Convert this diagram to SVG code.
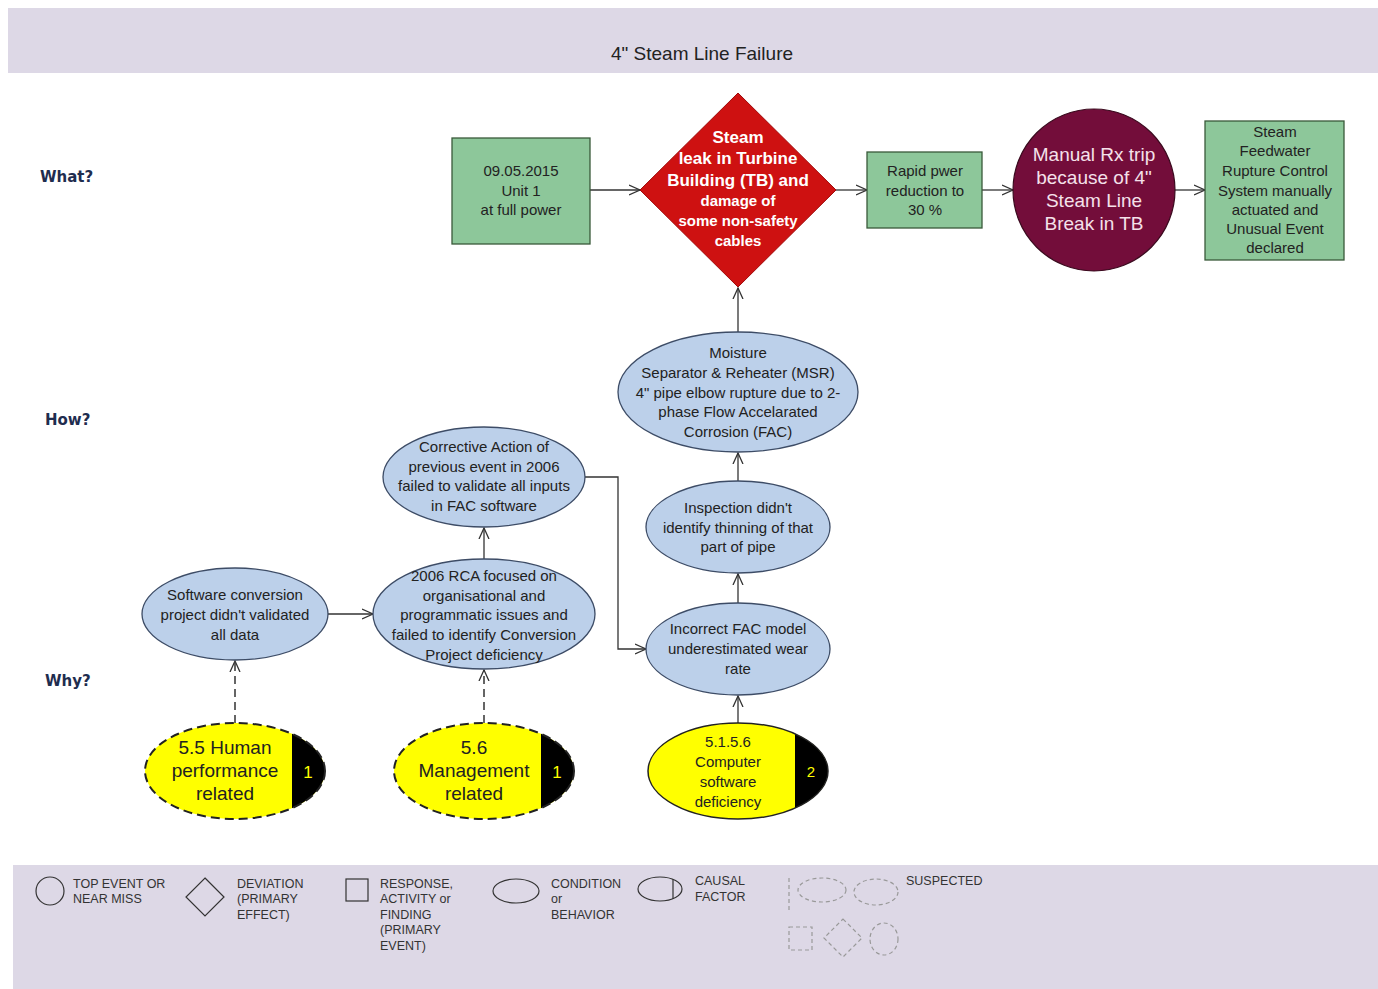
<svg xmlns="http://www.w3.org/2000/svg" width="1378" height="989" viewBox="0 0 1378 989">
<style>
text{font-family:"Liberation Sans",Arial,sans-serif;}
.t{font-size:15px;fill:#222;text-anchor:middle;}
.ty{font-size:19px;fill:#222;text-anchor:middle;}
.lbl{font-family:"DejaVu Sans",sans-serif;font-size:15px;font-weight:bold;fill:#1F2D4F;}
.box{fill:#8DC79A;stroke:#3A5A3A;stroke-width:1.3;}
.ell{fill:#BCD0EA;stroke:#3D4C66;stroke-width:1.3;}
.cf{fill:none;stroke:#222;stroke-width:1.5;}
.cfd{fill:none;stroke:#222;stroke-width:2;stroke-dasharray:9 5;}
.c{stroke:#333;stroke-width:1.3;fill:none;}
.cd{stroke:#333;stroke-width:1.5;fill:none;stroke-dasharray:8 5;}
.lg{fill:none;stroke:#333;stroke-width:1.2;}
.lgd{fill:none;stroke:#999;stroke-width:1.2;stroke-dasharray:4 3;}
.lt{font-size:12.5px;fill:#333;}
.w{fill:#fff;font-weight:bold;text-anchor:middle;}
</style>
<defs>
<marker id="arr" viewBox="0 0 12 12" refX="11" refY="6" markerWidth="12" markerHeight="12" markerUnits="userSpaceOnUse" orient="auto">
<path d="M0,1 L11,6 L0,11" fill="none" stroke="#333" stroke-width="1.3"/>
</marker>
<clipPath id="clipH"><ellipse cx="235" cy="771" rx="90" ry="48"/></clipPath>
<clipPath id="clipM"><ellipse cx="484" cy="771" rx="90" ry="48"/></clipPath>
<clipPath id="clipC"><ellipse cx="738" cy="771" rx="90" ry="48"/></clipPath>
</defs>
<rect width="1378" height="989" fill="#fff"/>
<rect x="8" y="8" width="1370" height="65" fill="#DDD8E6"/>
<text x="702" y="60" font-size="19" fill="#222" text-anchor="middle">4" Steam Line Failure</text>
<rect x="13" y="865" width="1365" height="124" fill="#DDD8E6"/>

<text class="lbl" x="40" y="182">What?</text>
<text class="lbl" x="45" y="425">How?</text>
<text class="lbl" x="45" y="686">Why?</text>

<g id="connectors">
<line class="c" x1="590" y1="190" x2="640" y2="190" marker-end="url(#arr)"/>
<line class="c" x1="836" y1="190" x2="867" y2="190" marker-end="url(#arr)"/>
<line class="c" x1="982" y1="190" x2="1013" y2="190" marker-end="url(#arr)"/>
<line class="c" x1="1175" y1="190" x2="1205" y2="190" marker-end="url(#arr)"/>
<line class="c" x1="738" y1="332" x2="738" y2="288" marker-end="url(#arr)"/>
<line class="c" x1="738" y1="481" x2="738" y2="453" marker-end="url(#arr)"/>
<line class="c" x1="738" y1="603" x2="738" y2="574" marker-end="url(#arr)"/>
<line class="c" x1="738" y1="723" x2="738" y2="696" marker-end="url(#arr)"/>
<polyline class="c" points="585,477 618,477 618,649 646,649" marker-end="url(#arr)"/>
<line class="c" x1="484" y1="559" x2="484" y2="528" marker-end="url(#arr)"/>
<line class="c" x1="328" y1="614" x2="373" y2="614" marker-end="url(#arr)"/>
<line class="cd" x1="235" y1="723" x2="235" y2="661" marker-end="url(#arr)"/>
<line class="cd" x1="484" y1="723" x2="484" y2="670" marker-end="url(#arr)"/>
</g>

<g id="n-start">
<rect class="box" x="452" y="138" width="138" height="106"/>
<text class="t" x="521" y="176">09.05.2015</text>
<text class="t" x="521" y="196">Unit 1</text>
<text class="t" x="521" y="215">at full power</text>
</g>

<g id="n-deviation">
<polygon points="738,93 836,190 738,287 640,190" fill="#CE1111" stroke="#A00A0A" stroke-width="1"/>
<text class="w" x="738" y="143" font-size="17">Steam</text>
<text class="w" x="738" y="164" font-size="17">leak in Turbine</text>
<text class="w" x="738" y="186" font-size="17">Building (TB) and</text>
<text class="w" x="738" y="206" font-size="15">damage of</text>
<text class="w" x="738" y="226" font-size="15">some non-safety</text>
<text class="w" x="738" y="246" font-size="15">cables</text>
</g>

<g id="n-rapid">
<rect class="box" x="867" y="152" width="115" height="76"/>
<text class="t" x="925" y="176">Rapid pwer</text>
<text class="t" x="925" y="196">reduction to</text>
<text class="t" x="925" y="215">30 %</text>
</g>

<g id="n-trip">
<circle cx="1094" cy="190" r="81" fill="#730D3A" stroke="#3A0A1E" stroke-width="1.2"/>
<text x="1094" y="161" font-size="19" fill="#F5E1EA" text-anchor="middle">Manual Rx trip</text>
<text x="1094" y="184" font-size="19" fill="#F5E1EA" text-anchor="middle">because of 4"</text>
<text x="1094" y="207" font-size="19" fill="#F5E1EA" text-anchor="middle">Steam Line</text>
<text x="1094" y="230" font-size="19" fill="#F5E1EA" text-anchor="middle">Break in TB</text>
</g>

<g id="n-feedwater">
<rect class="box" x="1205" y="121" width="139" height="139"/>
<text class="t" x="1275" y="137">Steam</text>
<text class="t" x="1275" y="156">Feedwater</text>
<text class="t" x="1275" y="176">Rupture Control</text>
<text class="t" x="1275" y="196">System manually</text>
<text class="t" x="1275" y="215">actuated and</text>
<text class="t" x="1275" y="234">Unusual Event</text>
<text class="t" x="1275" y="253">declared</text>
</g>

<g id="n-msr">
<ellipse class="ell" cx="738" cy="392" rx="120" ry="60"/>
<text class="t" x="738" y="358">Moisture</text>
<text class="t" x="738" y="378">Separator &amp; Reheater (MSR)</text>
<text class="t" x="738" y="398">4" pipe elbow rupture due to 2-</text>
<text class="t" x="738" y="417">phase Flow Accelarated</text>
<text class="t" x="738" y="437">Corrosion (FAC)</text>
</g>

<g id="n-inspection">
<ellipse class="ell" cx="738" cy="527" rx="92" ry="46"/>
<text class="t" x="738" y="513">Inspection didn't</text>
<text class="t" x="738" y="533">identify thinning of that</text>
<text class="t" x="738" y="552">part of pipe</text>
</g>

<g id="n-model">
<ellipse class="ell" cx="738" cy="649" rx="92" ry="46"/>
<text class="t" x="738" y="634">Incorrect FAC model</text>
<text class="t" x="738" y="654">underestimated wear</text>
<text class="t" x="738" y="674">rate</text>
</g>

<g id="n-corrective">
<ellipse class="ell" cx="484" cy="477" rx="101" ry="50"/>
<text class="t" x="484" y="452">Corrective Action of</text>
<text class="t" x="484" y="472">previous event in 2006</text>
<text class="t" x="484" y="491">failed to validate all inputs</text>
<text class="t" x="484" y="511">in FAC software</text>
</g>

<g id="n-rca">
<ellipse class="ell" cx="484" cy="614" rx="111" ry="55"/>
<text class="t" x="484" y="581">2006 RCA focused on</text>
<text class="t" x="484" y="601">organisational and</text>
<text class="t" x="484" y="620">programmatic issues and</text>
<text class="t" x="484" y="640">failed to identify Conversion</text>
<text class="t" x="484" y="660">Project deficiency</text>
</g>

<g id="n-software">
<ellipse class="ell" cx="235" cy="614" rx="93" ry="46"/>
<text class="t" x="235" y="600">Software conversion</text>
<text class="t" x="235" y="620">project didn't validated</text>
<text class="t" x="235" y="640">all data</text>
</g>

<g id="n-human">
<ellipse cx="235" cy="771" rx="90" ry="48" fill="#FFFF00"/>
<rect x="292" y="720" width="40" height="105" fill="#000" clip-path="url(#clipH)"/>
<ellipse class="cfd" cx="235" cy="771" rx="90" ry="48"/>
<text class="ty" x="225" y="754">5.5 Human</text>
<text class="ty" x="225" y="777">performance</text>
<text class="ty" x="225" y="800">related</text>
<text x="308" y="778" font-size="17" fill="#FFFF00" text-anchor="middle">1</text>
</g>

<g id="n-management">
<ellipse cx="484" cy="771" rx="90" ry="48" fill="#FFFF00"/>
<rect x="541" y="720" width="40" height="105" fill="#000" clip-path="url(#clipM)"/>
<ellipse class="cfd" cx="484" cy="771" rx="90" ry="48"/>
<text class="ty" x="474" y="754">5.6</text>
<text class="ty" x="474" y="777">Management</text>
<text class="ty" x="474" y="800">related</text>
<text x="557" y="778" font-size="17" fill="#FFFF00" text-anchor="middle">1</text>
</g>

<g id="n-computer">
<ellipse cx="738" cy="771" rx="90" ry="48" fill="#FFFF00"/>
<rect x="795" y="720" width="40" height="105" fill="#000" clip-path="url(#clipC)"/>
<ellipse class="cf" cx="738" cy="771" rx="90" ry="48"/>
<text class="t" x="728" y="747">5.1.5.6</text>
<text class="t" x="728" y="767">Computer</text>
<text class="t" x="728" y="787">software</text>
<text class="t" x="728" y="807">deficiency</text>
<text x="811" y="777" font-size="15" fill="#FFFF00" text-anchor="middle">2</text>
</g>

<g id="legend">
<circle class="lg" cx="50" cy="891" r="14"/>
<text class="lt" x="73" y="888">TOP EVENT OR</text>
<text class="lt" x="73" y="903">NEAR MISS</text>
<polygon class="lg" points="205,878 224,897 205,916 186,897"/>
<text class="lt" x="237" y="888">DEVIATION</text>
<text class="lt" x="237" y="903">(PRIMARY</text>
<text class="lt" x="237" y="919">EFFECT)</text>
<rect class="lg" x="346" y="879" width="22" height="22"/>
<text class="lt" x="380" y="888">RESPONSE,</text>
<text class="lt" x="380" y="903">ACTIVITY or</text>
<text class="lt" x="380" y="919">FINDING</text>
<text class="lt" x="380" y="934">(PRIMARY</text>
<text class="lt" x="380" y="950">EVENT)</text>
<ellipse class="lg" cx="516" cy="891" rx="23" ry="12"/>
<text class="lt" x="551" y="888">CONDITION</text>
<text class="lt" x="551" y="903">or</text>
<text class="lt" x="551" y="919">BEHAVIOR</text>
<ellipse class="lg" cx="660" cy="889" rx="22" ry="12"/>
<line class="lg" x1="673" y1="879" x2="673" y2="899"/>
<text class="lt" x="695" y="885">CAUSAL</text>
<text class="lt" x="695" y="901">FACTOR</text>
<line class="lgd" x1="789" y1="878" x2="789" y2="912"/>
<ellipse class="lgd" cx="822" cy="890" rx="24" ry="12"/>
<ellipse class="lgd" cx="876" cy="892" rx="22" ry="13"/>
<rect class="lgd" x="789" y="927" width="23" height="23"/>
<polygon class="lgd" points="843,919 862,938 843,957 824,938"/>
<ellipse class="lgd" cx="884" cy="939" rx="14" ry="16"/>
<text class="lt" x="906" y="885">SUSPECTED</text>
</g>
</svg>
